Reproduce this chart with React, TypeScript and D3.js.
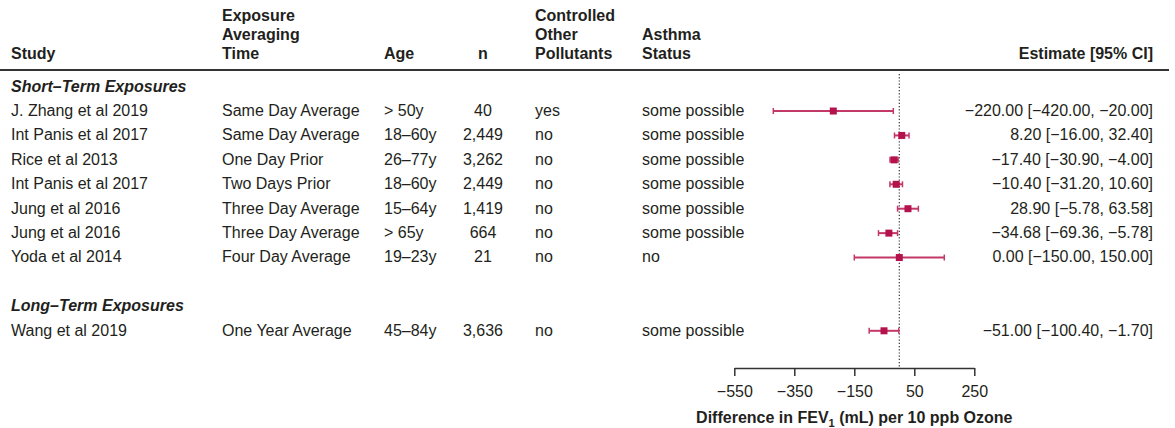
import * as d3 from 'd3';
import { useRef, useEffect } from 'react';

// ROWS OF THE FOREST PLOT
const studies = [
  'J. Zhang et al 2019',
  'Int Panis et al 2017',
  'Rice et al 2013',
  'Int Panis et al 2017',
  'Jung et al 2016',
  'Jung et al 2016',
  'Yoda et al 2014',
  'Wang et al 2019',
];
const averagingTimes = [
  'Same Day Average',
  'Same Day Average',
  'One Day Prior',
  'Two Days Prior',
  'Three Day Average',
  'Three Day Average',
  'Four Day Average',
  'One Year Average',
];
const ages = ['> 50y', '18–60y', '26–77y', '18–60y', '15–64y', '> 65y', '19–23y', '45–84y'];
const sampleSizes = ['40', '2,449', '3,262', '2,449', '1,419', '664', '21', '3,636'];
const otherPollutants = ['yes', 'no', 'no', 'no', 'no', 'no', 'no', 'no'];
const asthmaStatus = [
  'some possible',
  'some possible',
  'some possible',
  'some possible',
  'some possible',
  'some possible',
  'no',
  'some possible',
];
const estimates = [-220, 8.2, -17.4, -10.4, 28.9, -34.68, 0, -51];
const lowerCI = [-420, -16, -30.9, -31.2, -5.78, -69.36, -150, -100.4];
const upperCI = [-20, 32.4, -4, 10.6, 63.58, -5.78, 150, -1.7];
// which grid row each study sits on (0 = short-term header, 9 = long-term header)
const studyRows = [1, 2, 3, 4, 5, 6, 7, 10];
const sectionTitles = ['Short–Term Exposures', 'Long–Term Exposures'];
const sectionRows = [0, 9];
const xTicks = [-550, -350, -150, 50, 250];

const FONT = '"Liberation Sans", Arial, Helvetica, sans-serif';
const TEXT = '#231f20';
const MARK = '#b3124d';
const WHISKER = '#c43868';

function App() {
  const axisRef = useRef<SVGGElement>(null);
  const width = 1175;
  const height = 428;
  const rowTop = 85.8;
  const rowStep = 24.42;
  const axisY = 368;

  const x = d3.scaleLinear().domain([-550, 250]).range([734.3, 974.3]);
  const rowY = (r: number) => rowTop + r * rowStep;
  const fmt = d3.format('.2f');

  useEffect(() => {
    const axis = d3
      .axisBottom(x)
      .tickValues(xTicks)
      .tickSize(8)
      .tickSizeOuter(0)
      .tickPadding(10)
      .tickFormat(d3.format('d') as any);
    const g = d3.select(axisRef.current).call(axis as any);
    g.attr('font-family', FONT).attr('font-size', 16);
    g.select('.domain').attr('stroke', '#333').attr('stroke-width', 1.5);
    g.selectAll('.tick line').attr('stroke', '#333').attr('stroke-width', 1.5);
    g.selectAll('.tick text').attr('fill', TEXT);
  }, []);

  const headerLine = (lines: string[], xPos: number, anchor = 'start') =>
    lines.map((t, i) => (
      <text
        key={t + i}
        x={xPos}
        y={58.5 - (lines.length - 1 - i) * 18.7}
        textAnchor={anchor}
        fontWeight="bold"
      >
        {t}
      </text>
    ));

  return (
    <svg
      width={width}
      height={height}
      style={{ position: 'absolute', left: 0, top: 0, display: 'block' }}
      fontFamily={FONT}
      fontSize={16}
      fill={TEXT}
    >
      {/* COLUMN HEADERS */}
      {headerLine(['Study'], 11)}
      {headerLine(['Exposure', 'Averaging', 'Time'], 222)}
      {headerLine(['Age'], 384)}
      {headerLine(['n'], 483, 'middle')}
      {headerLine(['Controlled', 'Other', 'Pollutants'], 535)}
      {headerLine(['Asthma', 'Status'], 642)}
      {headerLine(['Estimate [95% CI]'], 1153, 'end')}
      <line x1={0} x2={1169} y1={70} y2={70} stroke="#333" strokeWidth={2} />

      {/* SECTION TITLES */}
      {sectionTitles.map((t, i) => (
        <text
          key={t}
          x={11}
          y={rowY(sectionRows[i]) + 5.7}
          fontWeight="bold"
          fontStyle="italic"
        >
          {t}
        </text>
      ))}

      {/* TABLE TEXT */}
      {studies.map((s, i) => {
        const y = rowY(studyRows[i]) + 5.7;
        return (
          <g key={'row' + i}>
            <text x={11} y={y}>{s}</text>
            <text x={222} y={y}>{averagingTimes[i]}</text>
            <text x={384} y={y}>{ages[i]}</text>
            <text x={483} y={y} textAnchor="middle">{sampleSizes[i]}</text>
            <text x={535} y={y}>{otherPollutants[i]}</text>
            <text x={642} y={y}>{asthmaStatus[i]}</text>
            <text x={1153} y={y} textAnchor="end">
              {`${fmt(estimates[i])} [${fmt(lowerCI[i])}, ${fmt(upperCI[i])}]`}
            </text>
          </g>
        );
      })}

      {/* REFERENCE LINE AT ZERO */}
      <line
        x1={x(0)}
        x2={x(0)}
        y1={74}
        y2={axisY}
        stroke="#333"
        strokeWidth={1.2}
        strokeDasharray="1.2,2"
      />

      {/* INTERVALS AND POINTS */}
      {estimates.map((est, i) => {
        const y = rowY(studyRows[i]) + 0.8;
        const x0 = x(lowerCI[i]);
        const x1 = x(upperCI[i]);
        return (
          <g key={'ci' + i}>
            <line x1={x0} x2={x1} y1={y} y2={y} stroke={WHISKER} strokeWidth={2} />
            <line x1={x0} x2={x0} y1={y - 3} y2={y + 3} stroke={WHISKER} strokeWidth={1.5} />
            <line x1={x1} x2={x1} y1={y - 3} y2={y + 3} stroke={WHISKER} strokeWidth={1.5} />
            <rect x={x(est) - 3.5} y={y - 3.5} width={7} height={7} fill={MARK} />
          </g>
        );
      })}

      {/* AXIS */}
      <g ref={axisRef} transform={`translate(0, ${axisY})`} />
      <text x={854.3} y={422.7} textAnchor="middle" fontWeight="bold">
        Difference in FEV
        <tspan fontSize={11} dy={4}>1</tspan>
        <tspan dy={-4}> (mL) per 10 ppb Ozone</tspan>
      </text>
    </svg>
  );
}

export default App;
